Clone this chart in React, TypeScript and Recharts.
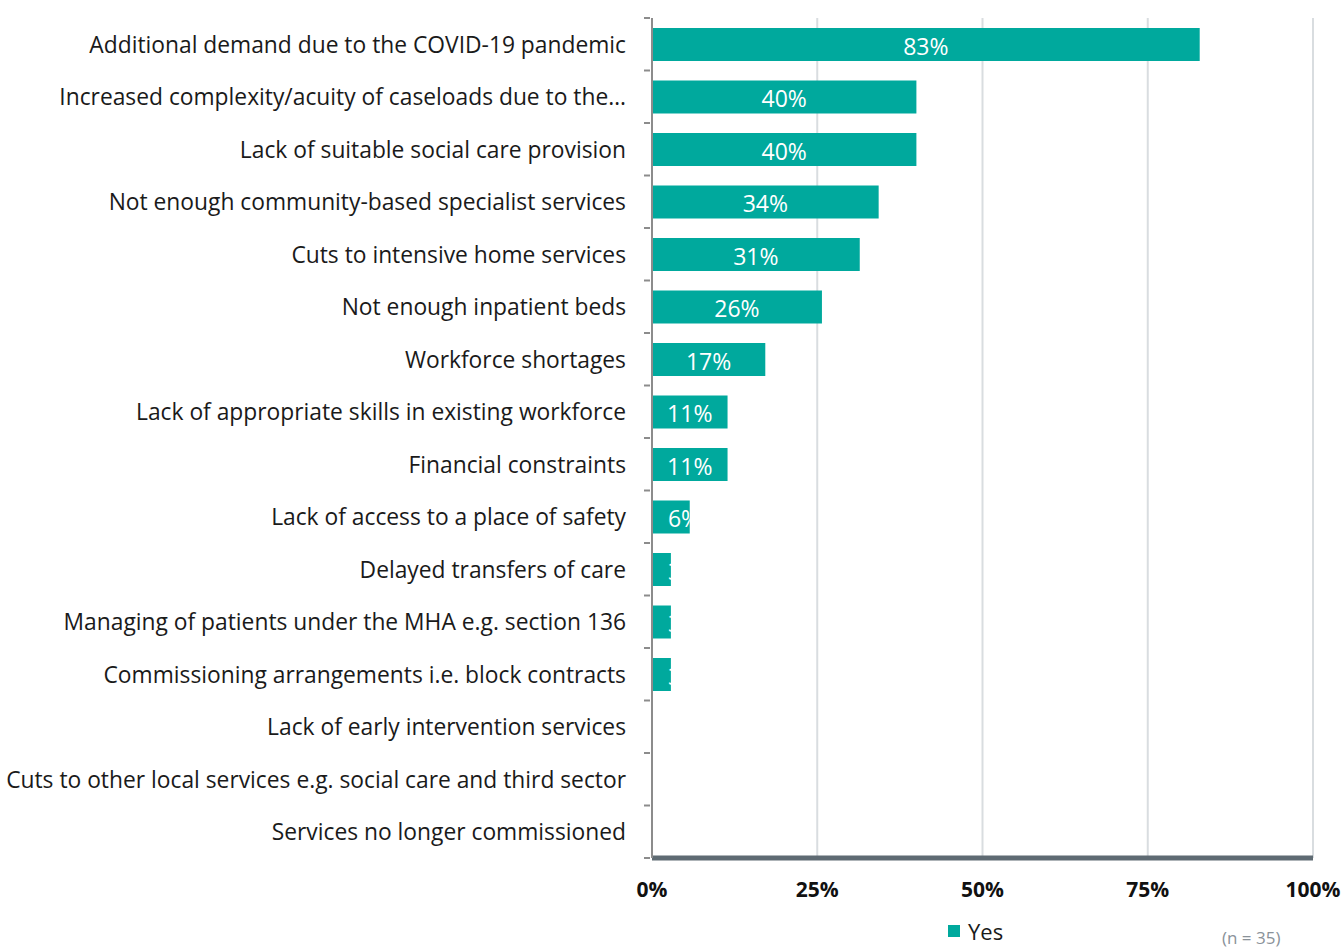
import React from "react";
import { BarChart, Bar, XAxis, YAxis, CartesianGrid, LabelList } from "recharts";

const categories = [
  "Additional demand due to the COVID-19 pandemic",
  "Increased complexity/acuity of caseloads due to the…",
  "Lack of suitable social care provision",
  "Not enough community-based specialist services",
  "Cuts to intensive home services",
  "Not enough inpatient beds",
  "Workforce shortages",
  "Lack of appropriate skills in existing workforce",
  "Financial constraints",
  "Lack of access to a place of safety",
  "Delayed transfers of care",
  "Managing of patients under the MHA e.g. section 136",
  "Commissioning arrangements i.e. block contracts",
  "Lack of early intervention services",
  "Cuts to other local services e.g. social care and third sector",
  "Services no longer commissioned",
];
const yesValues = [82.86, 40, 40, 34.29, 31.43, 25.71, 17.14, 11.43, 11.43, 5.71, 2.86, 2.86, 2.86, 0, 0, 0];
const xTicks = [0, 25, 50, 75, 100];
const seriesName = "Yes";
const noteText = "(n = 35)";

const data = categories.map((name, i) => ({ name, yes: yesValues[i] }));

const TEAL = "#00a99d";
const FONT = "'Open Sans', 'Noto Sans', sans-serif";

const BarLabel = (props: any) => {
  const { x, y, width, height, value, index } = props;
  if (!value) return null;
  const cx = Math.max(x + width / 2, x + 32);
  const id = `bar-clip-${index}`;
  return (
    <g>
      <defs>
        <clipPath id={id}>
          <rect x={x} y={y} width={width} height={height} />
        </clipPath>
      </defs>
      <text
        x={cx}
        y={y + height / 2 + 1}
        textAnchor="middle"
        dominantBaseline="central"
        fill="#ffffff"
        fontSize={23}
        fontFamily={FONT}
        clipPath={`url(#${id})`}
      >
        {Math.round(value)}%
      </text>
    </g>
  );
};

const YTick = (props: any) => {
  const { x, y, payload, index, visibleTicksCount } = props;
  const off = payload.offset || 0;
  const ax = x + 6;
  return (
    <g>
      <line x1={ax - 6} x2={ax} y1={y - off} y2={y - off} stroke="#8c8c8c" strokeWidth={2} />
      {index === visibleTicksCount - 1 && (
        <line x1={ax - 6} x2={ax} y1={y + off} y2={y + off} stroke="#8c8c8c" strokeWidth={2} />
      )}
      <text
        x={ax - 24}
        y={y}
        textAnchor="end"
        dominantBaseline="central"
        fill="#1a1a1a"
        fontSize={22.8}
        fontFamily={FONT}
      >
        {payload.value}
      </text>
    </g>
  );
};

export default function App() {
  return (
    <div style={{ position: "absolute", left: 0, top: 0, width: 1344, height: 949, background: "#fff", overflow: "hidden" }}>
      <BarChart
        width={1344}
        height={949}
        data={data}
        layout="vertical"
        margin={{ top: 18, right: 31, left: 0, bottom: 41 }}
      >
        <CartesianGrid horizontal={false} vertical={true} stroke="#d9dde0" strokeWidth={2} />
        <XAxis
          type="number"
          domain={[0, 100]}
          ticks={xTicks}
          tickFormatter={(v: number) => `${v}%`}
          axisLine={{ stroke: "#5f6b73", strokeWidth: 5 }}
          tickLine={false}
          tickMargin={18}
          height={50}
          tick={{ fill: "#111", fontSize: 21, fontWeight: 700, fontFamily: FONT }}
          interval={0}
        />
        <YAxis
          type="category"
          dataKey="name"
          width={652}
          axisLine={{ stroke: "#8c8c8c", strokeWidth: 2 }}
          tickLine={false}
          tick={<YTick />}
          interval={0}
        />
        <Bar dataKey="yes" name={seriesName} fill={TEAL} barSize={33} isAnimationActive={false}>
          <LabelList dataKey="yes" content={<BarLabel />} />
        </Bar>
      </BarChart>
      <div
        style={{
          position: "absolute",
          left: 948,
          top: 916,
          display: "flex",
          alignItems: "center",
          fontFamily: FONT,
          fontSize: 22,
          color: "#1a1a1a",
          lineHeight: "30px",
        }}
      >
        <span style={{ display: "inline-block", width: 12, height: 12, background: TEAL, marginRight: 8 }} />
        {seriesName}
      </div>
      <div
        style={{
          position: "absolute",
          left: 1222,
          top: 927,
          fontFamily: FONT,
          fontSize: 17,
          color: "#8a9299",
          lineHeight: "21px",
        }}
      >
        {noteText}
      </div>
    </div>
  );
}
